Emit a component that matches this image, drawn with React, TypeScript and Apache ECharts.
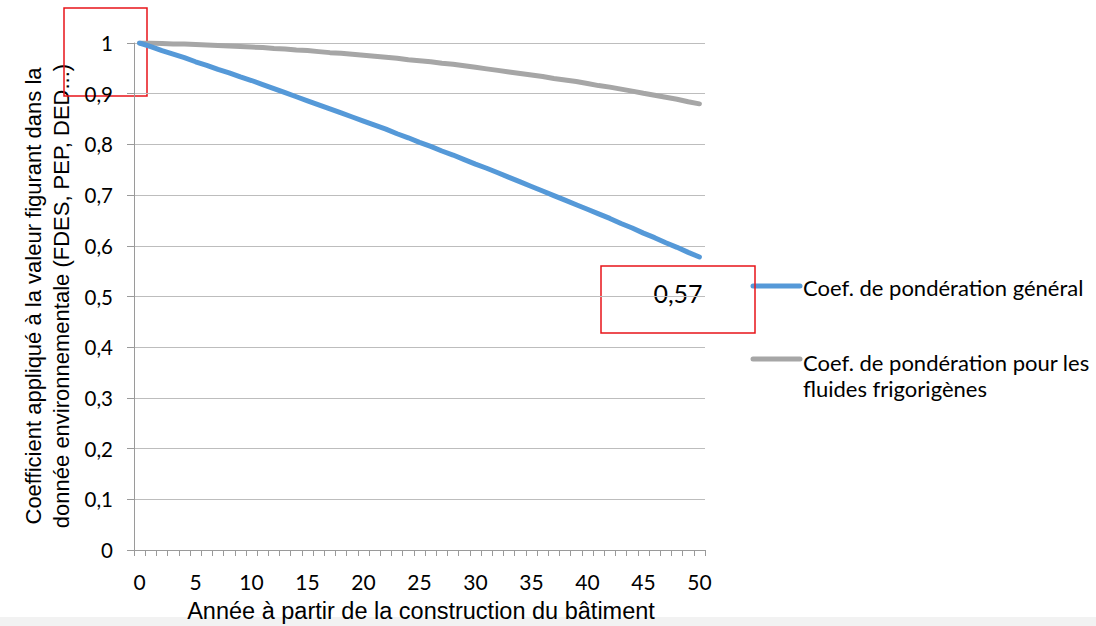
import React, { useEffect, useRef } from "react";
import * as echarts from "echarts";

const years: string[] = [
  "0","1","2","3","4","5","6","7","8","9","10","11","12","13","14","15","16","17","18","19","20",
  "21","22","23","24","25","26","27","28","29","30","31","32","33","34","35","36","37","38","39","40",
  "41","42","43","44","45","46","47","48","49","50",
];

const coefGeneral: number[] = [
  1.0, 0.993, 0.985, 0.978, 0.971, 0.963, 0.956, 0.948, 0.941, 0.933, 0.926,
  0.918, 0.91, 0.902, 0.894, 0.886, 0.878, 0.87, 0.862, 0.854, 0.846,
  0.838, 0.83, 0.821, 0.813, 0.804, 0.796, 0.787, 0.779, 0.77, 0.761,
  0.753, 0.744, 0.735, 0.726, 0.717, 0.708, 0.699, 0.69, 0.681, 0.672,
  0.663, 0.654, 0.644, 0.635, 0.625, 0.616, 0.606, 0.597, 0.587, 0.578,
];

const coefFluides: number[] = [
  1.0, 1.0, 0.999, 0.998, 0.998, 0.997, 0.996, 0.995, 0.994, 0.993, 0.992,
  0.991, 0.989, 0.988, 0.986, 0.985, 0.983, 0.981, 0.98, 0.978, 0.976,
  0.974, 0.972, 0.97, 0.967, 0.965, 0.963, 0.96, 0.958, 0.955, 0.952,
  0.949, 0.946, 0.943, 0.94, 0.937, 0.934, 0.93, 0.927, 0.924, 0.92,
  0.916, 0.913, 0.909, 0.905, 0.901, 0.897, 0.893, 0.889, 0.884, 0.88,
];

const seriesNames: string[] = [
  "Coef. de pondération général",
  "Coef. de pondération pour les\nfluides frigorigènes",
];

const yTitle = "Coefficient appliqué à la valeur figurant dans la\ndonnée environnementale (FDES, PEP, DED...)";
const xTitle = "Année à partir de la construction du bâtiment";
const annotation = "0,57";

const BLUE = "#5599d8";
const GREY = "#a6a6a6";
const TICKFONT = "Lato, 'Open Sans', sans-serif";
const ARIAL = "'Liberation Sans', Arial, sans-serif";

export default function App() {
  const ref = useRef<HTMLDivElement>(null);
  useEffect(() => {
    if (!ref.current) return;
    const chart = echarts.init(ref.current, undefined, { renderer: "svg" });
    chart.setOption({
      animation: false,
      backgroundColor: "#ffffff",
      grid: { left: 134, right: 391, top: 43, bottom: 76, containLabel: false },
      xAxis: {
        type: "category",
        data: years,
        boundaryGap: true,
        axisLine: { show: true, lineStyle: { color: "#9a9a9a", width: 1 } },
        axisTick: { show: true, interval: 0, length: 6, lineStyle: { color: "#9a9a9a" } },
        axisLabel: { interval: 4, color: "#000", fontSize: 21, fontFamily: TICKFONT, margin: 21 },
        splitLine: { show: false },
      },
      yAxis: {
        type: "value",
        min: 0,
        max: 1,
        interval: 0.1,
        axisLine: { show: true, lineStyle: { color: "#9a9a9a", width: 1 } },
        axisTick: { show: true, length: 7, lineStyle: { color: "#9a9a9a" } },
        axisLabel: {
          color: "#000",
          fontSize: 20.5,
          fontFamily: TICKFONT,
          margin: 21,
          formatter: (v: number) => (Math.round(v * 10) / 10).toString().replace(".", ","),
        },
        splitLine: { show: true, lineStyle: { color: "#bdbdbd", width: 1 } },
      },
      series: [
        {
          name: seriesNames[1],
          type: "line",
          data: coefFluides,
          showSymbol: false,
          lineStyle: { color: GREY, width: 5, cap: "round" },
          itemStyle: { color: GREY },
        },
        {
          name: seriesNames[0],
          type: "line",
          data: coefGeneral,
          showSymbol: false,
          lineStyle: { color: BLUE, width: 5, cap: "round" },
          itemStyle: { color: BLUE },
        },
      ],
      graphic: [
        { type: "rect", left: 0, top: 617, shape: { width: 1096, height: 9 }, style: { fill: "#f2f2f2" }, silent: true },
        {
          type: "text",
          x: 47,
          y: 296,
          rotation: Math.PI / 2,
          style: {
            text: yTitle,
            fontSize: 22,
            fontFamily: ARIAL,
            fill: "#000",
            align: "center",
            verticalAlign: "middle",
            lineHeight: 28,
          },
        },
        {
          type: "text",
          x: 421,
          y: 611,
          style: { text: xTitle, fontSize: 23.5, fontFamily: ARIAL, fill: "#000", align: "center", verticalAlign: "middle" },
        },
        { type: "line", shape: { x1: 753, y1: 286, x2: 800, y2: 286 }, style: { stroke: BLUE, lineWidth: 5, lineCap: "round" } },
        {
          type: "text",
          x: 803,
          y: 287,
          style: { text: seriesNames[0], fontSize: 22, fontFamily: TICKFONT, fill: "#000", align: "left", verticalAlign: "middle" },
        },
        { type: "line", shape: { x1: 753, y1: 359, x2: 800, y2: 359 }, style: { stroke: GREY, lineWidth: 5, lineCap: "round" } },
        {
          type: "text",
          x: 803,
          y: 349,
          style: { text: seriesNames[1], fontSize: 22, fontFamily: TICKFONT, fill: "#000", align: "left", verticalAlign: "top", lineHeight: 26 },
        },
        { type: "rect", shape: { x: 601, y: 266, width: 154, height: 67 }, style: { fill: "none", stroke: "#e8141a", lineWidth: 1.5 } },
        { type: "rect", shape: { x: 64, y: 8, width: 83, height: 88 }, style: { fill: "none", stroke: "#e8141a", lineWidth: 1.5 } },
        {
          type: "text",
          x: 678,
          y: 293,
          style: { text: annotation, fontSize: 25, fontFamily: TICKFONT, fill: "#000", align: "center", verticalAlign: "middle" },
        },
      ],
    });
    return () => chart.dispose();
  }, []);
  return <div ref={ref} style={{ position: "fixed", left: 0, top: 0, width: 1096, height: 626 }} />;
}
